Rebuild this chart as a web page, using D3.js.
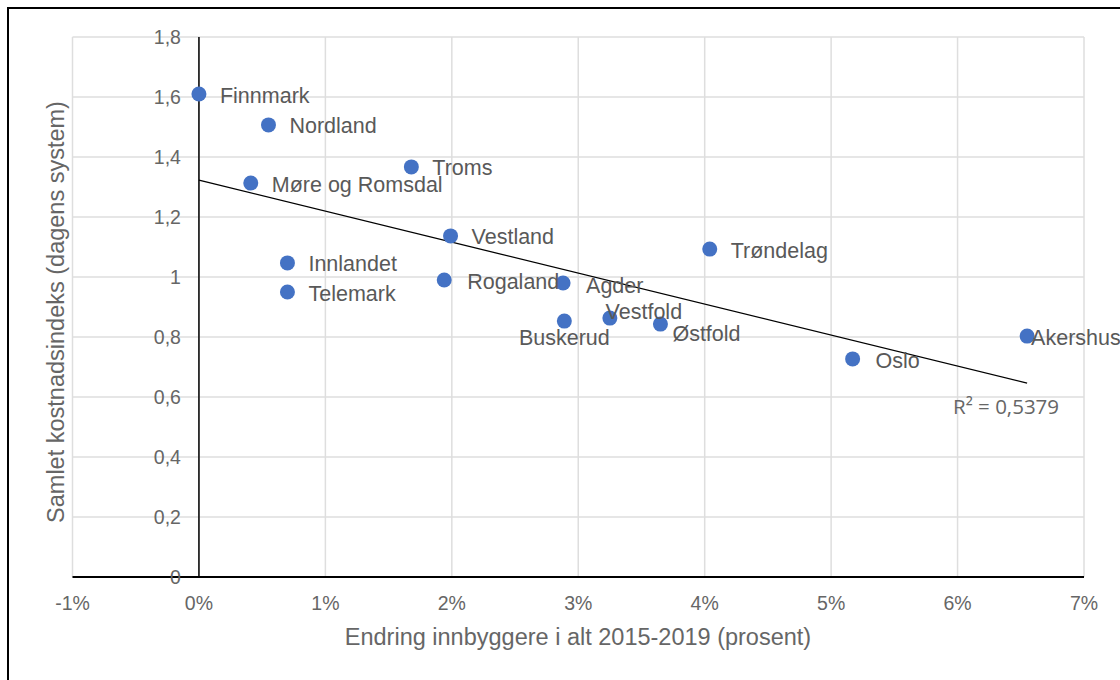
<!DOCTYPE html>
<html lang="no">
<head>
  <meta charset="utf-8">
  <script src="https://d3js.org/d3.v7.min.js"></script>
  <style>
    html, body { margin: 0; padding: 0; background: #fff; }
    svg { display: block; font-family: "Liberation Sans", Arial, sans-serif; }
  </style>
</head>
<body>
  <svg width="1120" height="680"></svg>

  <script>
    // data
    const regions = ["Finnmark", "Nordland", "Troms", "Møre og Romsdal", "Vestland", "Trøndelag",
      "Innlandet", "Rogaland", "Agder", "Telemark", "Buskerud", "Vestfold", "Østfold", "Akershus", "Oslo"];
    const growth = [0.0, 0.55, 1.68, 0.41, 1.99, 4.04, 0.70, 1.94, 2.88, 0.70, 2.89, 3.25, 3.65, 6.55, 5.17];
    const costIndex = [1.61, 1.507, 1.367, 1.313, 1.137, 1.093, 1.047, 0.99, 0.98, 0.95, 0.853, 0.863, 0.843, 0.803, 0.727];
    const xTicks = [-1, 0, 1, 2, 3, 4, 5, 6, 7];
    const yTicks = [0, 0.2, 0.4, 0.6, 0.8, 1, 1.2, 1.4, 1.6, 1.8];
    const rSquared = "R² = 0,5379";

    // label offsets (px from the point), text-anchor
    const labelPos = {
      "Buskerud": [0, 16, "middle"],
      "Vestfold": [34, -7, "middle"],
      "Akershus": [4, 1, "start"],
      "Østfold": [12, 9, "start"],
      "Oslo": [23, 2, "start"],
      "Rogaland": [23, 1, "start"],
      "Agder": [23, 2, "start"]
    };

    const svg = d3.select("svg");

    // outer frame
    svg.append("rect")
      .attr("x", 8).attr("y", 8).attr("width", 1130).attr("height", 700)
      .attr("fill", "none").attr("stroke", "#000").attr("stroke-width", 2);

    const x = d3.scaleLinear().domain([-1, 7]).range([72.5, 1084]);
    const y = d3.scaleLinear().domain([0, 1.8]).range([577, 37]);
    const fmt = d3.formatLocale({ decimal: ",", thousands: " ", grouping: [3], currency: ["", ""] });
    const yFmt = v => v === 0 ? "0" : (Number.isInteger(v) ? String(v) : fmt.format(".1f")(v));

    // grid
    svg.append("g").selectAll("line").data(xTicks).join("line")
      .attr("x1", d => x(d)).attr("x2", d => x(d))
      .attr("y1", y(1.8)).attr("y2", y(0))
      .attr("stroke", "#dedede").attr("stroke-width", 1.5);
    svg.append("g").selectAll("line").data(yTicks).join("line")
      .attr("x1", x(-1)).attr("x2", x(7))
      .attr("y1", d => y(d)).attr("y2", d => y(d))
      .attr("stroke", "#dedede").attr("stroke-width", 1.5);

    // axes crossing at zero
    svg.append("line")
      .attr("x1", x(0)).attr("x2", x(0)).attr("y1", y(1.8)).attr("y2", y(0))
      .attr("stroke", "#000").attr("stroke-width", 1.5);
    svg.append("line")
      .attr("x1", x(-1)).attr("x2", x(7)).attr("y1", y(0)).attr("y2", y(0))
      .attr("stroke", "#000").attr("stroke-width", 2);

    // tick labels
    svg.append("g").selectAll("text").data(yTicks).join("text")
      .attr("x", x(0) - 18).attr("y", d => y(d))
      .attr("dy", "0.35em").attr("text-anchor", "end")
      .attr("fill", "#666").style("font-size", "19.5px")
      .text(yFmt);
    svg.append("g").selectAll("text").data(xTicks).join("text")
      .attr("x", d => x(d)).attr("y", 603)
      .attr("dy", "0.35em").attr("text-anchor", "middle")
      .attr("fill", "#666").style("font-size", "19.5px")
      .text(d => d + "%");

    // axis titles
    svg.append("text")
      .attr("x", 578).attr("y", 637).attr("dy", "0.35em")
      .attr("text-anchor", "middle").attr("fill", "#666").style("font-size", "23.5px")
      .text("Endring innbyggere i alt 2015-2019 (prosent)");
    svg.append("text")
      .attr("transform", "translate(56,312) rotate(-90)")
      .attr("dy", "0.35em")
      .attr("text-anchor", "middle").attr("fill", "#666").style("font-size", "23.5px")
      .text("Samlet kostnadsindeks (dagens system)");

    // linear trend line (least squares)
    const mx = d3.mean(growth), my = d3.mean(costIndex);
    const slope = d3.sum(growth, (g, i) => (g - mx) * (costIndex[i] - my)) / d3.sum(growth, g => (g - mx) ** 2);
    const intercept = my - slope * mx;
    const [xMin, xMax] = d3.extent(growth);
    svg.append("line")
      .attr("x1", x(xMin)).attr("y1", y(intercept + slope * xMin))
      .attr("x2", x(xMax)).attr("y2", y(intercept + slope * xMax))
      .attr("stroke", "#000").attr("stroke-width", 1.3);

    svg.append("text")
      .attr("x", 953).attr("y", 407).attr("dy", "0.35em")
      .attr("fill", "#666").style("font-size", "20.5px")
      .style("font-family", "'Open Sans', sans-serif")
      .text(rSquared);

    // points
    const pts = regions.map((r, i) => ({ name: r, gx: growth[i], cy: costIndex[i] }));
    svg.append("g").selectAll("circle").data(pts).join("circle")
      .attr("cx", d => x(d.gx)).attr("cy", d => y(d.cy))
      .attr("r", 7.5).attr("fill", "#4472c4");

    svg.append("g").selectAll("text").data(pts).join("text")
      .attr("x", d => x(d.gx) + (labelPos[d.name] ? labelPos[d.name][0] : 21))
      .attr("y", d => y(d.cy) + (labelPos[d.name] ? labelPos[d.name][1] : 1))
      .attr("dy", "0.35em")
      .attr("text-anchor", d => labelPos[d.name] ? labelPos[d.name][2] : "start")
      .attr("fill", "#595959").style("font-size", "21.5px")
      .text(d => d.name);
  </script>
</body>
</html>
